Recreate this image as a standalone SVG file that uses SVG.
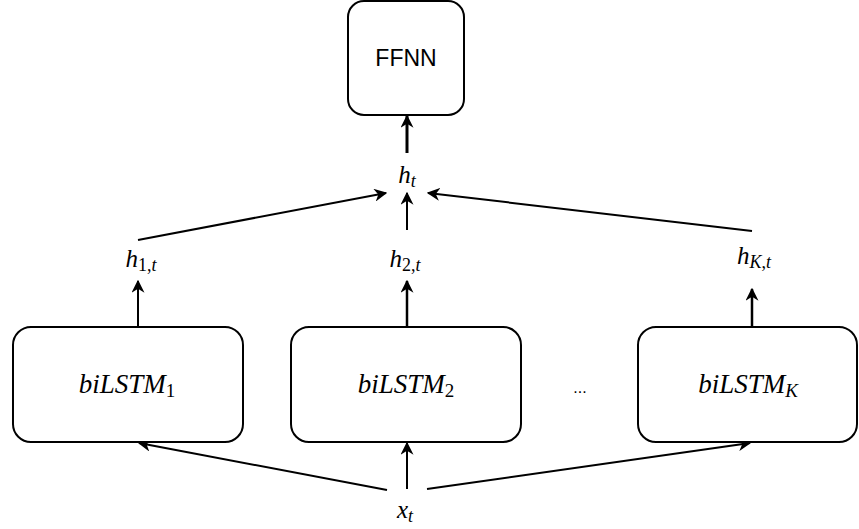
<svg xmlns="http://www.w3.org/2000/svg" width="859" height="529" viewBox="0 0 859 529">
<style>
.box{fill:#fff;stroke:#000;stroke-width:2}
.m{font-family:"Liberation Serif","Times New Roman",serif;font-style:italic;fill:#000}
.ms{font-family:"Liberation Serif","Times New Roman",serif;font-style:normal;fill:#000}
.s{font-family:"Liberation Sans",Arial,sans-serif;fill:#000}
.c{stroke:#000;fill:none}
</style>
<defs>
<marker id="ah2" viewBox="0 0 10 10" refX="9" refY="5" markerWidth="13" markerHeight="13" markerUnits="userSpaceOnUse" orient="auto">
<path d="M0,0 L10,5 L0,10 L3,5 Z" fill="#000"/>
</marker>
</defs>
<g id="connectors">
<line class="c" x1="407" y1="153" x2="407" y2="116" stroke-width="3" marker-end="url(#ah2)"/>
<line class="c" x1="138" y1="240" x2="386" y2="193" stroke-width="2" marker-end="url(#ah2)"/>
<line class="c" x1="407" y1="230" x2="407" y2="193" stroke-width="2" marker-end="url(#ah2)"/>
<line class="c" x1="752" y1="231" x2="428" y2="193" stroke-width="2" marker-end="url(#ah2)"/>
<line class="c" x1="138" y1="327" x2="138" y2="281" stroke-width="2" marker-end="url(#ah2)"/>
<line class="c" x1="407" y1="327" x2="407" y2="281" stroke-width="2.5" marker-end="url(#ah2)"/>
<line class="c" x1="752" y1="327" x2="752" y2="289" stroke-width="2.5" marker-end="url(#ah2)"/>
<line class="c" x1="387" y1="490" x2="139" y2="443" stroke-width="2" marker-end="url(#ah2)"/>
<line class="c" x1="407" y1="489" x2="407" y2="443" stroke-width="2" marker-end="url(#ah2)"/>
<line class="c" x1="427" y1="489" x2="750" y2="443" stroke-width="2" marker-end="url(#ah2)"/>
</g>
<g id="ffnn">
<rect class="box" x="348" y="1" width="116" height="114" rx="16"/>
<text class="s" x="406" y="66" font-size="23" text-anchor="middle">FFNN</text>
</g>
<g id="ht">
<text class="m" x="407" y="183" font-size="25" text-anchor="middle">h<tspan font-size="18" dy="4">t</tspan></text>
</g>
<g id="h1t">
<text class="m" x="141" y="267" font-size="25" text-anchor="middle">h<tspan class="ms" font-size="18" dy="4">1,</tspan><tspan font-size="18">t</tspan></text>
</g>
<g id="h2t">
<text class="m" x="405" y="267" font-size="25" text-anchor="middle">h<tspan class="ms" font-size="18" dy="4">2,</tspan><tspan font-size="18">t</tspan></text>
</g>
<g id="hKt">
<text class="m" x="754" y="264" font-size="25" text-anchor="middle">h<tspan font-size="18" dy="4">K</tspan><tspan class="ms" font-size="18">,</tspan><tspan font-size="18">t</tspan></text>
</g>
<g id="bilstm1">
<rect class="box" x="13" y="327" width="230" height="115" rx="18"/>
<text class="m" x="127" y="393" font-size="27" text-anchor="middle">biLSTM<tspan class="ms" font-size="19" dy="4">1</tspan></text>
</g>
<g id="bilstm2">
<rect class="box" x="291" y="327" width="230" height="115" rx="18"/>
<text class="m" x="406" y="393" font-size="27" text-anchor="middle">biLSTM<tspan class="ms" font-size="19" dy="4">2</tspan></text>
</g>
<g id="dots">
<text class="s" x="580" y="393" font-size="16" text-anchor="middle">...</text>
</g>
<g id="bilstmK">
<rect class="box" x="638" y="327" width="219" height="115" rx="18"/>
<text class="m" x="748" y="393" font-size="27" text-anchor="middle">biLSTM<tspan font-size="19" dy="4">K</tspan></text>
</g>
<g id="xt">
<text class="m" x="405" y="518" font-size="25" text-anchor="middle">x<tspan font-size="18" dy="4">t</tspan></text>
</g>
</svg>
